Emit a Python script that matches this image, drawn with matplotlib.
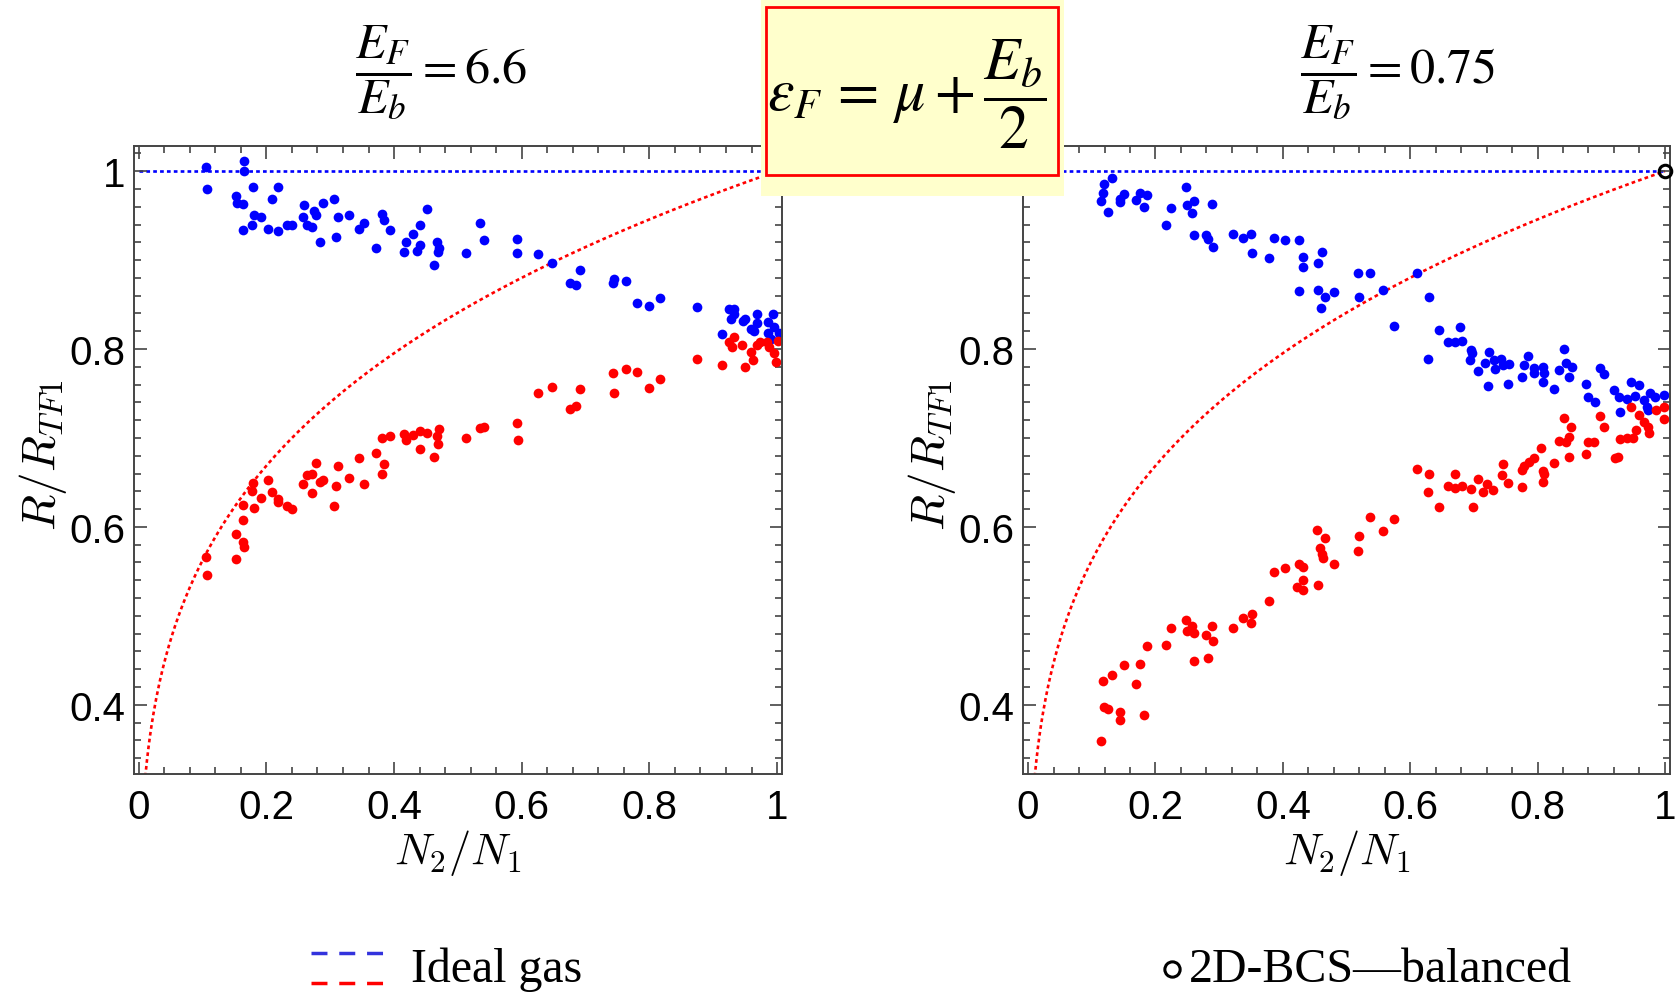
import matplotlib.pyplot as plt
import numpy as np
from matplotlib.patches import Rectangle
from matplotlib.lines import Line2D
from matplotlib.ticker import MultipleLocator

plt.rcParams['font.family'] = ['Liberation Sans', 'DejaVu Sans']
plt.rcParams['mathtext.fontset'] = 'cm'

# data: N2/N1 and R/R_TF1
left_blue_x = [0.106, 0.107, 0.165, 0.165, 0.152, 0.154, 0.163, 0.179, 0.181, 0.191, 0.178, 0.164,
               0.203, 0.209, 0.219, 0.219, 0.233, 0.240, 0.257, 0.259, 0.264, 0.271, 0.275, 0.278,
               0.284, 0.289, 0.306, 0.312, 0.309, 0.329, 0.345, 0.353, 0.372, 0.381, 0.384, 0.394,
               0.415, 0.418, 0.429, 0.436, 0.440, 0.441, 0.451, 0.462, 0.468, 0.469, 0.470, 0.513,
               0.534, 0.541, 0.592, 0.592, 0.626, 0.648, 0.676, 0.685, 0.692, 0.743, 0.744, 0.764,
               0.780, 0.799, 0.817, 0.875, 0.924, 0.932, 0.928, 0.933, 0.947, 0.950, 0.969, 0.968,
               0.959, 0.964, 0.913, 0.993, 0.986, 0.995, 0.985, 1.003, 0.991]
left_blue_y = [1.005, 0.980, 1.011, 1.000, 0.972, 0.964, 0.963, 0.982, 0.951, 0.949, 0.940, 0.934,
               0.935, 0.969, 0.982, 0.933, 0.939, 0.940, 0.948, 0.962, 0.939, 0.937, 0.955, 0.951,
               0.920, 0.964, 0.969, 0.949, 0.926, 0.951, 0.935, 0.942, 0.914, 0.952, 0.945, 0.934,
               0.909, 0.920, 0.929, 0.910, 0.939, 0.917, 0.958, 0.895, 0.920, 0.909, 0.914, 0.908,
               0.942, 0.923, 0.924, 0.908, 0.907, 0.897, 0.874, 0.872, 0.889, 0.874, 0.879, 0.877,
               0.852, 0.848, 0.857, 0.847, 0.845, 0.845, 0.834, 0.839, 0.831, 0.834, 0.839, 0.829,
               0.822, 0.820, 0.817, 0.839, 0.830, 0.825, 0.818, 0.818, 0.811]

left_red_x = [0.924, 0.932, 0.930, 0.945, 0.959, 0.968, 0.973, 0.984, 0.988, 0.995, 0.998, 1.002,
              0.963, 0.949, 0.913, 0.875, 0.743, 0.764, 0.780, 0.817, 0.799, 0.744, 0.626, 0.648,
              0.692, 0.676, 0.685, 0.592, 0.594, 0.534, 0.541, 0.513, 0.470, 0.468, 0.469, 0.462,
              0.451, 0.440, 0.441, 0.429, 0.418, 0.415, 0.394, 0.381, 0.372, 0.384, 0.381, 0.345,
              0.353, 0.329, 0.312, 0.309, 0.306, 0.289, 0.284, 0.278, 0.271, 0.264, 0.257, 0.272,
              0.203, 0.209, 0.219, 0.233, 0.240, 0.179, 0.178, 0.191, 0.164, 0.181, 0.219,
              0.106, 0.107, 0.152, 0.153, 0.164, 0.164, 0.165]
left_red_y = [0.808, 0.813, 0.802, 0.804, 0.797, 0.804, 0.808, 0.808, 0.802, 0.795, 0.785, 0.809,
              0.788, 0.780, 0.782, 0.789, 0.773, 0.777, 0.774, 0.766, 0.756, 0.750, 0.750, 0.757,
              0.755, 0.732, 0.736, 0.717, 0.698, 0.711, 0.712, 0.700, 0.710, 0.702, 0.693, 0.679,
              0.706, 0.708, 0.688, 0.703, 0.698, 0.704, 0.702, 0.700, 0.683, 0.671, 0.660, 0.677,
              0.648, 0.655, 0.668, 0.646, 0.624, 0.653, 0.650, 0.672, 0.660, 0.658, 0.648, 0.638,
              0.653, 0.639, 0.631, 0.623, 0.620, 0.649, 0.640, 0.632, 0.625, 0.621, 0.628,
              0.566, 0.546, 0.592, 0.564, 0.608, 0.583, 0.577]

right_blue_x = [0.119, 0.132, 0.117, 0.115, 0.125, 0.144, 0.144, 0.151, 0.170, 0.175, 0.186, 0.182,
                0.248, 0.217, 0.224, 0.249, 0.261, 0.258, 0.289, 0.260, 0.280, 0.283, 0.291, 0.322,
                0.338, 0.350, 0.351, 0.378, 0.386, 0.404, 0.425, 0.431, 0.431, 0.425, 0.455, 0.461,
                0.456, 0.467, 0.460, 0.480, 0.518, 0.537, 0.520, 0.558, 0.574, 0.610, 0.630, 0.628,
                0.645, 0.660, 0.670, 0.679, 0.681, 0.696, 0.697, 0.694, 0.707, 0.724, 0.717, 0.732,
                0.734, 0.743, 0.745, 0.723, 0.753, 0.755, 0.778, 0.785, 0.776, 0.795, 0.795, 0.808,
                0.810, 0.808, 0.826, 0.834, 0.842, 0.844, 0.854, 0.849, 0.876, 0.879, 0.890, 0.898,
                0.905, 0.920, 0.928, 0.940, 0.947, 0.959, 0.953, 0.929, 0.968, 0.976, 0.984, 0.972,
                0.999, 0.973]
right_blue_y = [0.986, 0.992, 0.975, 0.967, 0.954, 0.969, 0.965, 0.974, 0.968, 0.976, 0.973, 0.960,
                0.982, 0.939, 0.959, 0.962, 0.967, 0.953, 0.963, 0.928, 0.928, 0.924, 0.915, 0.929,
                0.925, 0.929, 0.908, 0.902, 0.925, 0.923, 0.923, 0.904, 0.892, 0.865, 0.897, 0.909,
                0.866, 0.858, 0.846, 0.864, 0.885, 0.885, 0.858, 0.866, 0.826, 0.885, 0.859, 0.789,
                0.821, 0.808, 0.808, 0.825, 0.809, 0.799, 0.796, 0.788, 0.775, 0.797, 0.784, 0.788,
                0.777, 0.789, 0.782, 0.758, 0.761, 0.783, 0.782, 0.792, 0.769, 0.779, 0.773, 0.780,
                0.773, 0.763, 0.755, 0.776, 0.800, 0.784, 0.780, 0.769, 0.761, 0.746, 0.740, 0.779,
                0.772, 0.754, 0.746, 0.744, 0.763, 0.759, 0.747, 0.729, 0.743, 0.751, 0.746, 0.735,
                0.748, 0.731]

right_red_x = [0.947, 0.959, 0.986, 0.999, 0.998, 0.968, 0.973, 0.975, 0.898, 0.905, 0.842, 0.852,
               0.849, 0.834, 0.844, 0.879, 0.889, 0.876, 0.849, 0.826, 0.921, 0.927, 0.930, 0.941,
               0.950, 0.955, 0.806, 0.794, 0.786, 0.778, 0.776, 0.808, 0.810, 0.808, 0.776, 0.745,
               0.744, 0.754, 0.707, 0.720, 0.715, 0.730, 0.670, 0.660, 0.681, 0.696, 0.671, 0.610,
               0.630, 0.628, 0.645, 0.698, 0.537, 0.574, 0.558, 0.520, 0.518, 0.454, 0.467, 0.459,
               0.461, 0.463, 0.480, 0.425, 0.431, 0.431, 0.423, 0.431, 0.456, 0.386, 0.404, 0.378,
               0.338, 0.351, 0.350, 0.322, 0.248, 0.258, 0.249, 0.261, 0.289, 0.280, 0.291, 0.224,
               0.217, 0.186, 0.260, 0.282, 0.151, 0.175, 0.132, 0.117, 0.170, 0.119, 0.126, 0.144,
               0.144, 0.182, 0.115]
right_red_y = [0.735, 0.726, 0.731, 0.735, 0.721, 0.718, 0.712, 0.706, 0.725, 0.712, 0.722, 0.712,
               0.701, 0.697, 0.695, 0.695, 0.695, 0.682, 0.679, 0.672, 0.677, 0.679, 0.699, 0.700,
               0.700, 0.709, 0.689, 0.677, 0.673, 0.668, 0.664, 0.663, 0.660, 0.650, 0.645, 0.671,
               0.658, 0.649, 0.654, 0.648, 0.639, 0.641, 0.659, 0.646, 0.646, 0.643, 0.644, 0.665,
               0.660, 0.639, 0.622, 0.622, 0.611, 0.609, 0.595, 0.590, 0.573, 0.597, 0.588, 0.576,
               0.569, 0.565, 0.558, 0.558, 0.555, 0.540, 0.532, 0.529, 0.535, 0.549, 0.554, 0.517,
               0.497, 0.502, 0.492, 0.486, 0.495, 0.489, 0.483, 0.481, 0.488, 0.478, 0.472, 0.486,
               0.467, 0.466, 0.449, 0.453, 0.445, 0.446, 0.434, 0.427, 0.423, 0.397, 0.395, 0.392,
               0.383, 0.389, 0.359]

titles = [r'$\dfrac{E_F}{E_b} = 6.6$', r'$\dfrac{E_F}{E_b} = 0.75$']
xticks = [0, 0.2, 0.4, 0.6, 0.8, 1]
yticks = [0.4, 0.6, 0.8, 1]

# ideal gas curve R/R_TF1 = (N2/N1)^(1/4)
ideal_x = np.linspace(0.0104, 1, 400)
ideal_y = ideal_x ** 0.25

fig = plt.figure(figsize=(16.76, 9.95), dpi=100)
ax1 = fig.add_axes([0.0797, 0.221, 0.387, 0.631])
ax2 = fig.add_axes([0.6104, 0.221, 0.386, 0.631])

panels = [(ax1, left_blue_x, left_blue_y, left_red_x, left_red_y),
          (ax2, right_blue_x, right_blue_y, right_red_x, right_red_y)]

dots = (0, (1.4, 1.2))
for ax, bx, by, rx, ry in panels:
    ax.plot([0, 1], [1, 1], color='blue', lw=1.9, ls=dots, zorder=1)
    ax.plot(ideal_x, ideal_y, color='red', lw=1.9, ls=dots, zorder=1)
    ax.plot(bx, by, 'o', color='blue', ms=7, mew=0, zorder=2)
    ax.plot(rx, ry, 'o', color='red', ms=7, mew=0, zorder=2)
    ax.set_xlim(-0.008, 1.008)
    ax.set_ylim(0.322, 1.028)
    ax.set_xticks(xticks)
    ax.set_xticklabels(['0', '0.2', '0.4', '0.6', '0.8', '1'])
    ax.set_yticks(yticks)
    ax.set_yticklabels(['0.4', '0.6', '0.8', '1'])
    ax.xaxis.set_minor_locator(MultipleLocator(0.04))
    ax.yaxis.set_minor_locator(MultipleLocator(0.02))
    ax.tick_params(which='both', direction='in', top=True, right=True,
                   color='#444444', width=1.2)
    ax.tick_params(which='major', length=9, labelsize=29)
    ax.tick_params(axis='x', which='major', pad=10)
    ax.tick_params(axis='y', which='major', pad=6)
    ax.tick_params(which='minor', length=5)
    for s in ax.spines.values():
        s.set_color('#444444')
        s.set_linewidth(1.4)
    ax.set_xlabel(r'$N_2/N_1$', fontsize=32)
    ax.xaxis.set_label_coords(0.5, -0.085)
    ax.set_ylabel(r'$R/R_{TF1}$', fontsize=34)
    ax.yaxis.set_label_coords(-0.10, 0.51)

# balanced 2D-BCS point
ax2.plot([1], [1], 'o', mfc='none', mec='black', mew=2.2, ms=9, zorder=3, clip_on=False)

fig.text(0.263, 0.927, titles[0], fontsize=36, ha='center', va='center', math_fontfamily='stix')
fig.text(0.834, 0.927, titles[1], fontsize=36, ha='center', va='center', math_fontfamily='stix')

# formula box
fig.patches.append(Rectangle((761 / 1676, 1 - 197 / 995), 303 / 1676, 197 / 995,
                             transform=fig.transFigure, facecolor='#FFFFCC', edgecolor='none', zorder=5))
fig.patches.append(Rectangle((766 / 1676, 1 - 176 / 995), 292 / 1676, 168 / 995,
                             transform=fig.transFigure, facecolor='none', edgecolor='red', lw=2, zorder=6))
fig.text(0.541, 0.905, r'$\varepsilon_F\, =\, \mu + \dfrac{E_b}{2}$', fontsize=43, ha='center',
         va='center', math_fontfamily='stix', zorder=7)

# legend at the bottom
fig.add_artist(Line2D([0.1855, 0.2285], [0.041, 0.041], transform=fig.transFigure,
                      color='#3333DD', lw=2.5, ls=(0, (4.6, 3.4))))
fig.add_artist(Line2D([0.1855, 0.2285], [0.011, 0.011], transform=fig.transFigure,
                      color='red', lw=2.5, ls=(0, (4.6, 3.4))))
fig.text(0.245, 0.013, 'Ideal gas', fontsize=34.5, family='Liberation Serif', ha='left', va='baseline')
fig.add_artist(Line2D([0.6995], [0.025], transform=fig.transFigure, marker='o', mfc='none',
                      mec='black', mew=2.2, ms=11, ls='none'))
fig.text(0.7095, 0.013, '2D-BCS\u2014balanced', fontsize=34.5, family='Liberation Serif',
         ha='left', va='baseline')

fig.savefig('out.png', dpi=100)
